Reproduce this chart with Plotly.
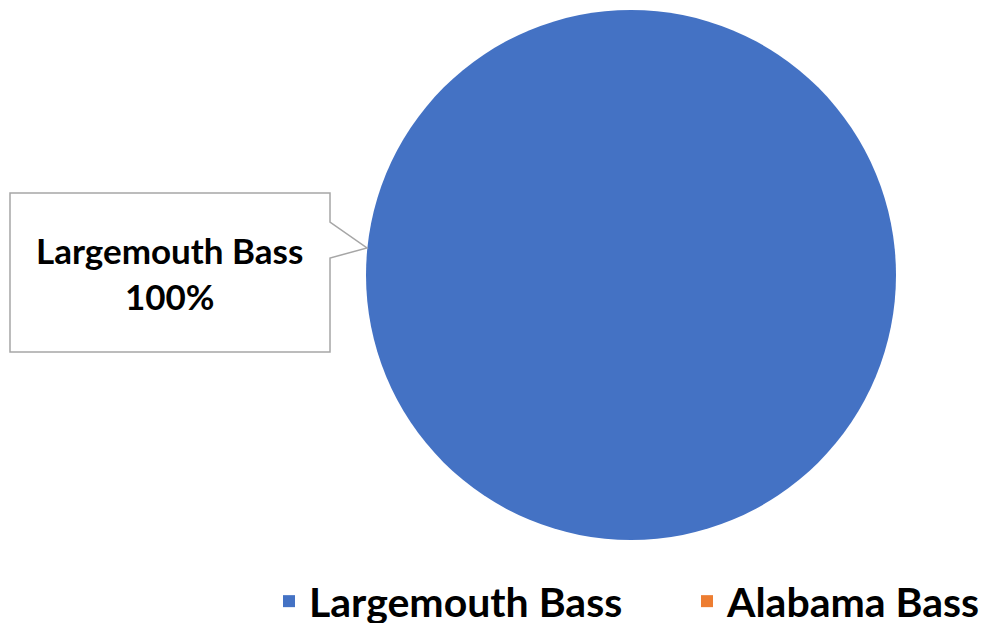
import plotly.graph_objects as go

W, H = 985, 623

labels = ["Largemouth Bass", "Alabama Bass"]
values = [100, 0]
colors = ["#4472C4", "#ED7D31"]

def px(x):
    return x / W

def py(y):
    return 1 - y / H

total = sum(values)
pct = round(values[0] / total * 100)

fig = go.Figure()
fig.add_trace(go.Pie(
    labels=labels,
    values=values,
    marker=dict(colors=colors, line=dict(width=0)),
    textinfo="none",
    sort=False,
    direction="clockwise",
    hoverinfo="label+percent",
    domain=dict(x=[px(366), px(896)], y=[py(540), py(10)]),
))

# callout box
pts = [(10, 193), (330, 193), (330, 222), (367, 248), (330, 258), (330, 352), (10, 352)]
path = "M " + " L ".join(f"{px(x):.5f},{py(y):.5f}" for x, y in pts) + " Z"
fig.add_shape(type="path", path=path, xref="paper", yref="paper",
              line=dict(color="#A6A6A6", width=1.5), fillcolor="white", layer="above")

fig.add_annotation(
    x=px(169), y=py(273), xref="paper", yref="paper",
    xanchor="center", yanchor="middle",
    text=f"{labels[0]}<br>{pct}%",
    showarrow=False, align="center",
    font=dict(family="Lato", size=35, color="#000000", weight="bold"),
)

fig.update_layout(
    width=W, height=H,
    margin=dict(l=0, r=0, t=0, b=0, autoexpand=False),
    paper_bgcolor="white",
    plot_bgcolor="white",
    showlegend=True,
    legend=dict(
        orientation="h",
        x=px(269), xanchor="left",
        y=py(635), yanchor="bottom",
        entrywidth=373, entrywidthmode="pixels",
        font=dict(family="Lato", size=41, color="#000000", weight="bold"),
        itemclick=False,
    ),
)

fig.write_html("out.html")
